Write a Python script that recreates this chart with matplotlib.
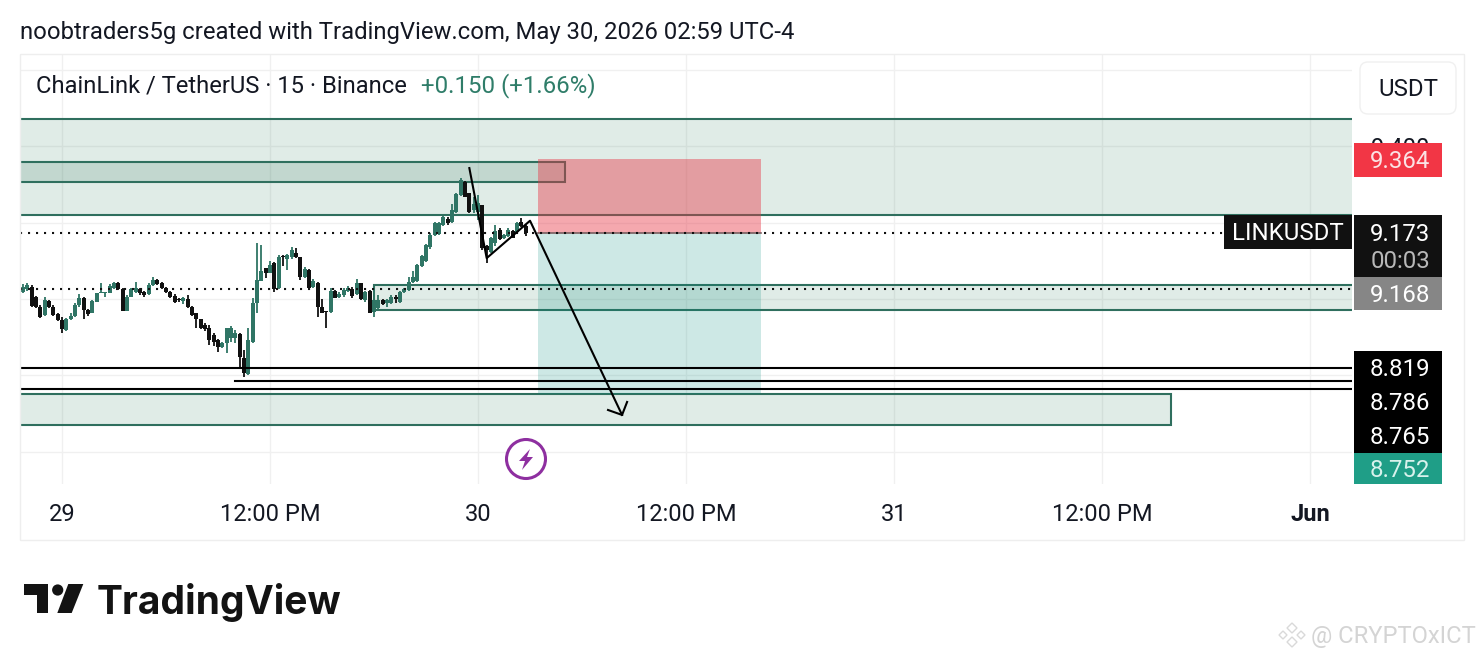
import numpy as np
import matplotlib
matplotlib.use('Agg')
import matplotlib.pyplot as plt
from matplotlib.patches import Rectangle, FancyBboxPatch, Circle, Polygon

plt.rcParams['font.family'] = ['Roboto', 'DejaVu Sans']

# 15 minute candles, first one at 29 May 00:00 minus 2.25 hours
first_hour = -2.25
step_hour = 0.25

open_ = [9.019,9.025,9.032,9.006,8.980,8.958,8.995,8.980,8.961,8.945,8.919,8.947,8.955,8.984,9.002,8.971,8.964,8.993,9.015,9.016,
         9.016,9.029,9.043,9.025,8.969,9.006,9.017,9.025,9.019,9.012,9.037,9.050,9.041,9.030,9.019,9.008,8.999,8.995,8.999,8.980,
         8.962,8.947,8.932,8.923,8.906,8.892,8.873,8.884,8.897,8.897,8.908,8.844,8.803,8.888,8.989,9.048,9.080,9.069,9.093,9.028,
         9.113,9.105,9.109,9.121,9.109,9.057,9.076,9.032,9.043,8.980,8.968,8.967,9.022,9.004,9.010,9.022,9.025,9.012,9.041,8.997,
         9.022,8.967,8.976,8.997,8.990,8.990,9.006,8.993,9.017,9.024,9.045,9.048,9.086,9.100,9.135,9.168,9.170,9.194,9.209,9.201,
         9.229,9.272,9.307,9.277,9.233,9.229,9.246,9.139,9.124,9.146,9.181,9.159,9.165,9.179,9.176,9.202,9.191]
high = [9.039,9.043,9.037,9.008,8.984,9.004,8.997,8.984,8.962,8.954,8.949,8.962,8.989,9.012,9.006,8.973,8.997,9.016,9.043,9.019,
        9.039,9.044,9.044,9.028,9.010,9.030,9.045,9.028,9.022,9.043,9.057,9.051,9.044,9.032,9.022,9.013,9.002,9.004,9.010,8.982,
        8.964,8.948,8.936,8.932,8.910,8.894,8.888,8.925,8.929,8.919,8.910,8.866,8.923,9.002,9.147,9.141,9.080,9.099,9.098,9.115,
        9.115,9.117,9.135,9.133,9.111,9.083,9.078,9.051,9.044,8.999,8.969,9.028,9.024,9.019,9.030,9.034,9.032,9.051,9.043,9.022,
        9.024,9.032,9.010,8.999,8.999,9.010,9.010,9.022,9.028,9.057,9.074,9.092,9.115,9.144,9.172,9.202,9.202,9.217,9.214,9.249,
        9.277,9.316,9.310,9.278,9.268,9.272,9.246,9.141,9.163,9.194,9.185,9.170,9.185,9.182,9.202,9.211,9.194]
low = [9.015,9.022,8.980,8.975,8.949,8.955,8.975,8.955,8.942,8.912,8.917,8.945,8.952,8.980,8.948,8.955,8.962,8.991,9.015,9.004,
       9.015,9.027,9.023,8.969,8.969,9.004,9.015,9.010,9.006,9.010,9.034,9.037,9.025,9.016,9.002,8.990,8.993,8.987,8.975,8.955,
       8.923,8.920,8.917,8.879,8.877,8.862,8.871,8.858,8.888,8.885,8.818,8.795,8.801,8.884,8.962,9.048,9.054,9.067,9.019,9.025,
       9.086,9.076,9.106,9.108,9.050,9.054,9.025,9.028,8.954,8.962,8.925,8.964,9.002,9.002,9.006,9.019,9.002,9.010,8.997,8.993,
       8.962,8.954,8.971,8.984,8.980,8.987,8.989,8.990,9.015,9.022,9.043,9.045,9.083,9.098,9.130,9.165,9.168,9.191,9.194,9.198,
       9.226,9.270,9.266,9.224,9.224,9.207,9.128,9.093,9.120,9.139,9.154,9.156,9.163,9.159,9.172,9.188,9.165]
close = [9.032,9.036,8.982,8.980,8.954,8.997,8.978,8.958,8.945,8.920,8.947,8.956,8.984,9.003,8.971,8.960,8.995,9.015,9.019,9.019,
         9.034,9.043,9.025,8.969,9.006,9.025,9.028,9.015,9.010,9.037,9.050,9.039,9.030,9.019,9.004,8.993,8.996,9.002,8.978,8.958,
         8.947,8.923,8.920,8.892,8.888,8.873,8.885,8.923,8.923,8.910,8.849,8.805,8.892,8.989,9.050,9.072,9.067,9.089,9.025,9.111,
         9.109,9.115,9.127,9.109,9.057,9.078,9.030,9.048,8.980,8.964,8.965,9.022,9.003,9.013,9.024,9.028,9.008,9.041,9.000,9.019,
         8.964,8.997,8.997,8.987,8.997,9.004,9.000,9.019,9.025,9.045,9.057,9.089,9.113,9.141,9.168,9.198,9.200,9.214,9.198,9.233,
         9.274,9.312,9.268,9.229,9.250,9.252,9.133,9.127,9.159,9.179,9.156,9.168,9.181,9.161,9.200,9.191,9.173]

last_price = 9.173
prev_close = 9.026
support_lines = [8.819, 8.765]
low_line = 8.786
low_line_start = 10.0

# zones: start hour, end hour, bottom price, top price
zone_big = (-2.5, 75, 9.220, 9.471)
zone_small = (-2.5, 29.0, 9.306, 9.359)
zone_mid = (18.0, 75, 8.971, 9.037)
zone_low = (-2.5, 64.0, 8.670, 8.751)
risk_box = (27.46, 40.33, 9.173, 9.367)
reward_box = (27.46, 40.33, 8.751, 9.173)
drawn_path_x = [23.5, 24.5, 27.0, 32.31]
drawn_path_y = [9.343, 9.107, 9.205, 8.696]
arrow_head_x = [31.5, 32.31, 32.6]
arrow_head_y = [8.709, 8.696, 8.730]

time_ticks = [0, 12, 24, 36, 48, 60, 72]
time_labels = ['29', '12:00 PM', '30', '12:00 PM', '31', '12:00 PM', 'Jun']
price_ticks = [8.6, 8.8, 9.0, 9.2, 9.4, 9.6]
# the other scale labels sit fully behind tags in the source picture
price_labels = ['', '', '', '9.200', '9.400', '']

GREEN = '#2f7565'
BLACK = '#111111'
ZONE_EDGE = '#2f6f5e'
ZONE_FILL = (0.19, 0.50, 0.37, 0.15)
GRID = '#f0f0f0'

W, H = 1484, 660
fig = plt.figure(figsize=(W / 100, H / 100), dpi=100, facecolor='white')

# main chart, 20..1352 px wide, 54..484 px high
ax = fig.add_axes([20 / W, 1 - 484 / H, 1332 / W, 430 / H])
ax.set_xlim(-2.423, 74.42)
ax.set_ylim(8.515, 9.642)
for s in ax.spines.values():
    s.set_visible(False)
ax.set_xticks(time_ticks)
ax.set_xticklabels(time_labels, fontsize=17, color='#131722')
ax.get_xticklabels()[-1].set_fontweight('bold')
ax.yaxis.tick_right()
ax.set_yticks(price_ticks)
ax.set_yticklabels(price_labels, fontsize=17, color='#131722')
ax.tick_params(axis='x', length=0, pad=13.5)
ax.tick_params(axis='y', length=0, pad=13.5)
ax.grid(True, color=GRID, lw=1)
ax.set_axisbelow(True)


def box(b, fc, ec=None, z=2, lw=1.5):
    ax.add_patch(Rectangle((b[0], b[2]), b[1] - b[0], b[3] - b[2], facecolor=fc,
                           edgecolor=ec if ec else 'none', lw=lw, zorder=z))


box(zone_big, ZONE_FILL, ZONE_EDGE, z=2)
box(zone_small, (0.19, 0.45, 0.35, 0.17), ZONE_EDGE, z=2.1)
box(zone_mid, ZONE_FILL, ZONE_EDGE, z=2.1)
box(zone_low, ZONE_FILL, ZONE_EDGE, z=2.1)
# position boxes are see through and lie over the zones
box(risk_box, (0.91, 0.21, 0.27, 0.43), z=3)
box(reward_box, (0.03, 0.55, 0.49, 0.20), z=3)
ax.plot(risk_box[:2], [last_price, last_price], color='#7a5e60', lw=1.2, zorder=3.5)

# candles
hours = first_hour + step_hour * np.arange(len(close))
open_ = np.array(open_)
close = np.array(close)
colors = [GREEN if c >= o else BLACK for o, c in zip(open_, close)]
ax.vlines(hours, low, high, colors=colors, lw=1.3, zorder=4)
ax.bar(hours, close - open_, bottom=open_, width=0.22, color=colors, zorder=5)

# dotted price lines
dots = (0, (1, 2.84))
ax.plot([-2.42, 67.1], [last_price, last_price], color=BLACK, lw=1.5, ls=dots, zorder=6)
ax.plot([-2.42, 75], [prev_close, prev_close], color=BLACK, lw=1.5, ls=dots, zorder=6)

# horizontal levels
for p in support_lines:
    ax.plot([-2.5, 75], [p, p], color='black', lw=1.5, zorder=6)
ax.plot([low_line_start, 75], [low_line, low_line], color='black', lw=1.5, zorder=6)

# hand drawn path and arrow head
ax.plot(drawn_path_x, drawn_path_y, color='black', lw=1.5, zorder=7)
ax.plot(arrow_head_x, arrow_head_y, color='black', lw=1.5, zorder=7)

# overlay in pixel coordinates for the frame, tags, header and logo
ov = fig.add_axes([0, 0, 1, 1], zorder=10)
ov.set_xlim(0, W)
ov.set_ylim(H, 0)
ov.axis('off')
ov.patch.set_alpha(0)

ov.add_patch(Rectangle((20, 54), 1444, 486, fill=False, ec='#eeeeee', lw=1))
ov.add_patch(FancyBboxPatch((1364, 66), 88, 44, boxstyle='round,pad=4,rounding_size=8',
                            fc='white', ec='#f0f0f0', lw=1))
ov.text(1408, 90, 'USDT', fontsize=17.3, color='#131722', ha='center', va='center')

ov.text(20, 32.5, 'noobtraders5g created with TradingView.com, May 30, 2026 02:59 UTC-4',
        fontsize=17.2, color='#131722', va='center')
ov.text(36, 86, 'ChainLink / TetherUS · 15 · Binance', fontsize=17.15, color='#131722', va='center')
ov.text(421, 86, '+0.150 (+1.66%)', fontsize=17.3, color='#2f7d69', va='center')

tags = [('9.364', 143, 177, '#f23645', '#fbe3e5'),
        ('9.168', 277, 310, '#868686', 'white'),
        ('8.819', 351, 385, '#000000', 'white'),
        ('8.786', 385, 419, '#000000', 'white'),
        ('8.765', 419, 453, '#000000', 'white'),
        ('8.752', 453, 484, '#1f9e87', '#d8f2ec')]
for label, top, bottom, fc, tc in tags:
    ov.add_patch(Rectangle((1354, top), 88, bottom - top, fc=fc, ec='none'))
    ov.text(1400, (top + bottom) / 2 + 2, label, fontsize=17.3, color=tc, ha='center', va='center')

ov.add_patch(Rectangle((1354, 215), 88, 62, fc='#111111', ec='none'))
ov.text(1400, 234.5, '9.173', fontsize=17.3, color='white', ha='center', va='center')
ov.text(1400, 262, '00:03', fontsize=17.3, color='#b8b8b8', ha='center', va='center')
ov.add_patch(Rectangle((1224, 215), 128, 34, fc='#111111', ec='none'))
ov.text(1288, 234, 'LINKUSDT', fontsize=17.3, color='white', ha='center', va='center')

# lightning icon
ov.add_patch(Circle((526, 459), 19.5, fc='white', ec='#8e2fa0', lw=2.2))
ov.add_patch(Polygon([(530, 449), (519, 461), (525, 461), (522, 470), (533, 457), (527, 457)],
                     fc='#8e2fa0', ec='none'))

# TradingView logo
ov.add_patch(Polygon([(24, 584), (48.3, 584), (48.3, 613), (36.7, 613), (36.7, 595), (24, 595)],
                     fc='#131313', ec='none'))
ov.add_patch(Circle((57.7, 590), 5.6, fc='#131313', ec='none'))
ov.add_patch(Polygon([(68.3, 584), (83.3, 584), (71.7, 613), (57.3, 613)], fc='#131313', ec='none'))
ov.text(97, 602, 'TradingView', fontsize=28.1, fontweight='bold', family='Inter', color='#131313', va='center')

# watermark
for cx, cy, r in [(1292, 628, 5), (1283, 635, 4), (1301, 635, 4), (1292, 642, 5)]:
    ov.add_patch(Polygon([(cx, cy - r), (cx + r, cy), (cx, cy + r), (cx - r, cy)],
                         fc='none', ec='#d9d9d9', lw=1))
ov.text(1311, 636, '@ CRYPTOxICT', fontsize=17.1, color='#d4d4d4', va='center')

fig.savefig('out.png', dpi=100)
